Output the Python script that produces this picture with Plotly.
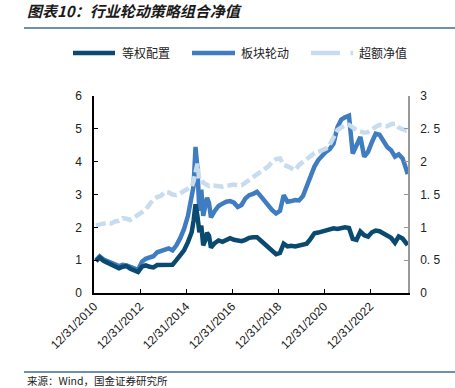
import plotly.graph_objects as go

# ---------------- data ----------------
dates = [
    "2011-01-31", "2011-03-31", "2011-05-31", "2011-07-31", "2011-09-30", "2011-11-30",
    "2012-01-31", "2012-03-31", "2012-05-31", "2012-07-31", "2012-09-30", "2012-11-30",
    "2013-01-31", "2013-03-31", "2013-05-31", "2013-07-31", "2013-09-30", "2013-11-30",
    "2014-01-31", "2014-03-31", "2014-05-31", "2014-07-31", "2014-09-30", "2014-11-30",
    "2015-01-31", "2015-03-31", "2015-04-30", "2015-05-31", "2015-06-30", "2015-07-31",
    "2015-08-31", "2015-09-30", "2015-10-31", "2015-11-30", "2015-12-31",
    "2016-01-31", "2016-03-31", "2016-05-31", "2016-07-31", "2016-09-30", "2016-11-30",
    "2017-01-31", "2017-03-31", "2017-05-31", "2017-07-31", "2017-09-30", "2017-11-30",
    "2018-01-31", "2018-03-31", "2018-05-31", "2018-07-31", "2018-09-30", "2018-11-30",
    "2019-01-31", "2019-03-31", "2019-05-31", "2019-07-31", "2019-09-30", "2019-11-30",
    "2020-01-31", "2020-03-31", "2020-05-31", "2020-07-31", "2020-09-30", "2020-11-30",
    "2021-01-31", "2021-03-31", "2021-05-31", "2021-07-31", "2021-09-30", "2021-11-30",
    "2022-01-31", "2022-03-31", "2022-05-31", "2022-07-31", "2022-09-30", "2022-11-30",
    "2023-01-31", "2023-03-31", "2023-05-31", "2023-07-31", "2023-09-30", "2023-11-30",
    "2024-01-31", "2024-03-31", "2024-05-31", "2024-07-31", "2024-08-20",
]

equal_weight = [  # 等权配置 (left axis)
    0.97, 1.08, 0.98, 0.92, 0.88, 0.82,
    0.75, 0.80, 0.82, 0.74, 0.70, 0.64,
    0.80, 0.84, 0.80, 0.78, 0.85, 0.86,
    0.84, 0.85, 0.86, 1.00, 1.15, 1.30,
    1.55, 1.85, 2.20, 2.70, 2.35, 1.85,
    2.05, 1.45, 1.60, 1.83, 1.75,
    1.38, 1.52, 1.60, 1.56, 1.62, 1.67,
    1.62, 1.60, 1.58, 1.62, 1.68, 1.70,
    1.70, 1.60, 1.50, 1.36, 1.28, 1.18,
    1.22, 1.50, 1.42, 1.44, 1.42, 1.44,
    1.48, 1.50, 1.65, 1.82, 1.84, 1.87,
    1.90, 1.92, 1.97, 1.95, 1.97, 2.00,
    1.98, 1.65, 1.62, 1.87, 1.76, 1.72,
    1.85, 1.90, 1.88, 1.82, 1.76, 1.68,
    1.53, 1.72, 1.66, 1.52, 1.46,
]

sector_rotation = [  # 板块轮动 (left axis)
    1.00, 1.12, 1.02, 0.98, 0.92, 0.87,
    0.82, 0.86, 0.84, 0.78, 0.75, 0.70,
    0.95, 1.04, 1.08, 1.12, 1.24, 1.28,
    1.32, 1.36, 1.30, 1.45, 1.67, 1.95,
    2.35, 2.95, 3.25, 4.45, 3.80, 2.50,
    3.15, 2.35, 2.60, 2.90, 2.75,
    2.30, 2.50, 2.65, 2.72, 2.78, 2.80,
    2.75, 2.62, 2.68, 2.88, 2.98, 3.02,
    3.08, 2.95, 2.80, 2.62, 2.52, 2.42,
    2.50, 2.98, 2.78, 2.80, 2.83, 2.82,
    2.95, 3.25, 3.55, 3.85, 4.05, 4.20,
    4.30, 4.38, 4.55, 5.05, 5.28, 5.35,
    5.40, 4.25, 4.50, 4.75, 4.15, 4.30,
    4.60, 4.85, 4.82, 4.65, 4.45, 4.35,
    4.15, 4.22, 4.10, 3.75, 3.62,
]

excess_nav = [  # 超额净值 (right axis)
    1.03, 1.04, 1.05, 1.07, 1.06, 1.09,
    1.10, 1.14, 1.13, 1.11, 1.15, 1.19,
    1.22, 1.27, 1.35, 1.42, 1.46, 1.48,
    1.54, 1.53, 1.50, 1.49, 1.52, 1.55,
    1.58, 1.62, 1.70, 1.85, 1.97, 1.72,
    1.72, 1.68, 1.66, 1.64, 1.63,
    1.64, 1.63, 1.62, 1.62, 1.63, 1.64,
    1.65, 1.64, 1.64, 1.68, 1.72, 1.77,
    1.80, 1.85, 1.88, 1.93, 2.00, 2.04,
    2.05, 1.95, 1.93, 1.90, 1.87, 1.95,
    2.00, 2.05, 2.10, 2.13, 2.15, 2.18,
    2.20, 2.26, 2.36, 2.48, 2.52, 2.55,
    2.56, 2.52, 2.48, 2.46, 2.44, 2.45,
    2.50, 2.53, 2.56, 2.55, 2.54, 2.57,
    2.58, 2.52, 2.49, 2.47, 2.47,
]

series_names = ["等权配置", "板块轮动", "超额净值"]
x_tick_vals = ["2010-12-31", "2012-12-31", "2014-12-31", "2016-12-31",
               "2018-12-31", "2020-12-31", "2022-12-31"]
x_tick_text = ["12/31/2010", "12/31/2012", "12/31/2014", "12/31/2016",
               "12/31/2018", "12/31/2020", "12/31/2022"]
left_ticks = [0, 1, 2, 3, 4, 5, 6]
right_ticks = [0, 0.5, 1, 1.5, 2, 2.5, 3]
right_tick_text = ["0", "0. 5", "1", "1. 5", "2", "2. 5", "3"]

# ---------------- styling ----------------
C_DARK = "#0a4a70"
C_MID = "#3f7dc0"
C_LIGHT = "#c8dcf0"
LW = 4.5
CJK = "Noto Sans CJK SC"
NUM = "Liberation Sans, Arial"

fig = go.Figure()
fig.add_trace(go.Scatter(x=dates, y=excess_nav, name=series_names[2], yaxis="y2",
                         mode="lines", line=dict(color=C_LIGHT, width=LW, dash="10px,4px")))
fig.add_trace(go.Scatter(x=dates, y=sector_rotation, name=series_names[1],
                         mode="lines", line=dict(color=C_MID, width=LW)))
fig.add_trace(go.Scatter(x=dates, y=equal_weight, name=series_names[0],
                         mode="lines", line=dict(color=C_DARK, width=LW)))

W, H = 455, 388
L, R, T, B = 94, 408, 96, 293


def px_x(px):
    return (px - L) / (R - L)


def px_y(py):
    return (B - py) / (B - T)


shapes = []
annotations = []

# title + rule
annotations.append(dict(text="<b><i>图表10：行业轮动策略组合净值</i></b>", xref="paper", yref="paper",
                        x=px_x(25), y=px_y(11), xanchor="left", yanchor="middle", showarrow=False,
                        font=dict(family=CJK, size=15, color="#1a1a1a")))
shapes.append(dict(type="line", xref="paper", yref="paper", x0=px_x(24), x1=px_x(455),
                   y0=px_y(28), y1=px_y(28), line=dict(color="#3a6b96", width=1.5)))

# legend (manual)
ly = px_y(53)
shapes.append(dict(type="line", xref="paper", yref="paper", x0=px_x(73), x1=px_x(115),
                   y0=ly, y1=ly, line=dict(color=C_DARK, width=LW)))
shapes.append(dict(type="line", xref="paper", yref="paper", x0=px_x(192), x1=px_x(235),
                   y0=ly, y1=ly, line=dict(color=C_MID, width=LW)))
shapes.append(dict(type="line", xref="paper", yref="paper", x0=px_x(311), x1=px_x(340),
                   y0=ly, y1=ly, line=dict(color=C_LIGHT, width=LW)))
shapes.append(dict(type="line", xref="paper", yref="paper", x0=px_x(350.5), x1=px_x(353),
                   y0=ly, y1=ly, line=dict(color=C_LIGHT, width=LW)))
for name, xpx in zip(series_names, [120, 239, 357]):
    annotations.append(dict(text=name, xref="paper", yref="paper", x=px_x(xpx), y=ly,
                            xanchor="left", yanchor="middle", showarrow=False,
                            font=dict(family=CJK, size=12, color="#222")))

# bottom rule + source
shapes.append(dict(type="line", xref="paper", yref="paper", x0=px_x(24), x1=px_x(455),
                   y0=px_y(372), y1=px_y(372), line=dict(color="#3a6b96", width=1.5)))
annotations.append(dict(text="来源：Wind，国金证券研究所", xref="paper", yref="paper",
                        x=px_x(25), y=px_y(380), xanchor="left", yanchor="middle", showarrow=False,
                        font=dict(family=CJK, size=10.5, color="#222")))

fig.update_layout(
    width=W, height=H,
    margin=dict(l=L, r=W - R, t=T, b=H - B, pad=0),
    paper_bgcolor="white", plot_bgcolor="white",
    showlegend=False,
    shapes=shapes, annotations=annotations,
    xaxis=dict(range=["2010-12-31", "2024-08-25"], tickmode="array",
               tickvals=x_tick_vals, ticktext=x_tick_text, tickangle=-45,
               ticks="inside", ticklen=4, tickcolor="#000", showgrid=False, zeroline=False,
               showline=True, linecolor="#000", linewidth=1.5,
               tickfont=dict(family=NUM, size=12, color="#222")),
    yaxis=dict(range=[0, 6], tickmode="array", tickvals=left_ticks,
               ticks="inside", ticklen=4, tickcolor="#000", showgrid=False, zeroline=False,
               showline=True, linecolor="#000", linewidth=1.5, ticklabelstandoff=8,
               tickfont=dict(family=NUM, size=12, color="#222")),
    yaxis2=dict(range=[0, 3], tickmode="array", tickvals=right_ticks, ticktext=right_tick_text,
                overlaying="y", side="right",
                ticks="inside", ticklen=4, tickcolor="#999", showgrid=False, zeroline=False,
                showline=True, linecolor="#999", linewidth=1.5, ticklabelstandoff=8,
                tickfont=dict(family=NUM, size=12, color="#222")),
)

fig.write_html("out.html", config={"displayModeBar": False},
               post_script="document.body.style.margin='0';document.body.style.overflow='hidden';")
